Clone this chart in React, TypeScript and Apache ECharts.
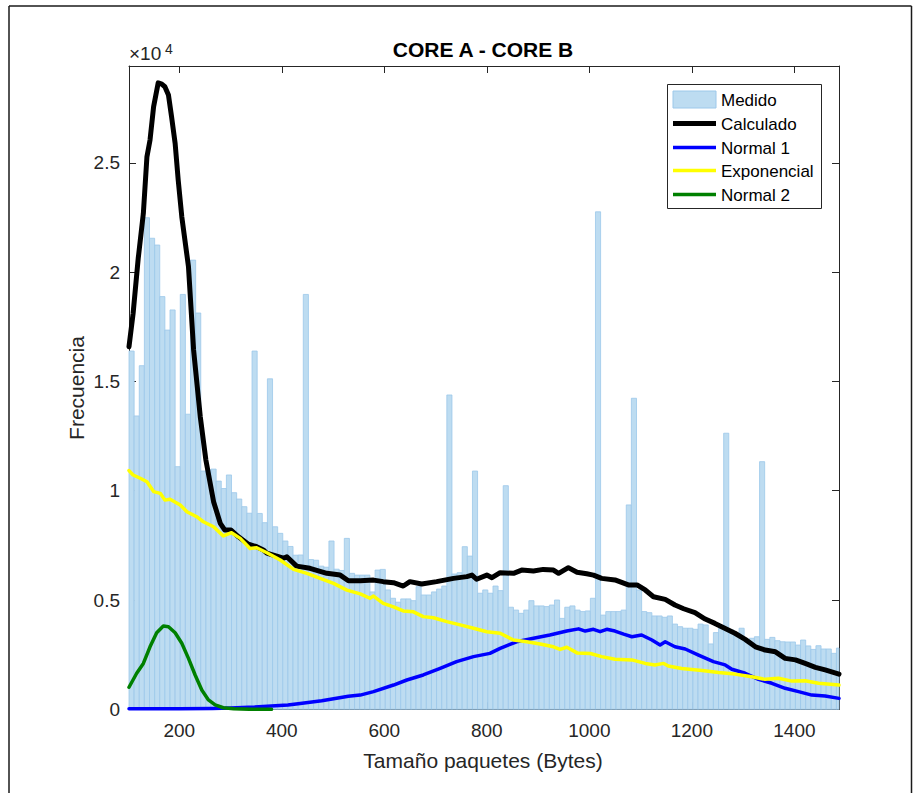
import React, { useEffect, useRef } from "react";
import * as echarts from "echarts";

// ---------- data ----------
const BIN_START = 102;
const BIN_WIDTH = 10;
const X_MIN = 102;
const X_MAX = 1487;
const Y_MAX = 29430;
const X_TICKS = [200, 400, 600, 800, 1000, 1200, 1400];
const Y_TICKS = [0, 5000, 10000, 15000, 20000, 25000];

const MEDIDO = [
  16390, 13420, 15720, 22490, 21550, 21240, 18880, 17350, 18270, 11100,
  18980, 13500, 20550, 18130, 10900, 10950, 10990, 10440, 10100, 10720,
  9910, 9620, 9270, 8970, 16390, 8960, 8540, 15120, 8350, 8050,
  7700, 7450, 7050, 7060, 18980, 6850, 6820, 6550, 6500, 7700,
  6410, 6350, 7820, 6220, 6140, 6140, 6140, 5370, 6370, 6400,
  5460, 5080, 4900, 5050, 5050, 4970, 5610, 5230, 5230, 5370,
  5500, 5640, 14380, 6190, 6250, 7440, 7010, 10900, 5310, 5460,
  5310, 5640, 5430, 10230, 4670, 4540, 4390, 4540, 4970, 4730,
  4730, 4700, 4770, 5000, 4160, 4670, 4730, 4540, 4470, 4500,
  5080, 22760, 4310, 4470, 4470, 4470, 4540, 9350, 14230, 5460,
  4470, 4420, 4270, 4270, 4210, 4270, 3900, 3780, 3710, 3710,
  3660, 3900, 3860, 2990, 3510, 3710, 12630, 3630, 3480, 3710,
  3170, 3250, 3320, 11330, 3200, 3290, 3140, 3090, 3080, 3080,
  2940, 3170, 2900, 2740, 2910, 2760, 2760, 2560, 2800,
];

const CALCULADO: [number, number][] = [
  [102, 16590], [110, 18110], [120, 20630], [130, 22690], [137, 25280], [143, 26040],
  [150, 27570], [159, 28660], [166, 28600], [172, 28480], [179, 28100], [185, 27110],
  [192, 25890], [198, 24210], [205, 22530], [218, 20250], [228, 16440], [241, 13390],
  [252, 11400], [267, 9500], [280, 8510], [289, 8200], [301, 8200], [315, 7900],
  [335, 7550], [351, 7440], [364, 7290], [371, 7140], [403, 6910], [410, 6980],
  [429, 6550], [455, 6450], [488, 6220], [514, 6140], [530, 5880], [553, 5880],
  [579, 5910], [598, 5840], [618, 5790], [637, 5640], [650, 5840], [673, 5730],
  [702, 5840], [735, 5990], [761, 6070], [771, 6140], [780, 5950], [800, 6140],
  [810, 6020], [826, 6250], [852, 6220], [868, 6370], [891, 6330], [910, 6400],
  [930, 6370], [940, 6220], [959, 6480], [976, 6270], [995, 6200], [1008, 6140],
  [1024, 5990], [1050, 5920], [1076, 5690], [1093, 5690], [1109, 5460], [1125, 5150],
  [1148, 5030], [1167, 4770], [1184, 4600], [1206, 4420], [1226, 4130], [1245, 3930],
  [1265, 3700], [1284, 3480], [1304, 3200], [1324, 2860], [1343, 2710], [1363, 2630],
  [1382, 2330], [1402, 2260], [1421, 2100], [1441, 1920], [1460, 1800], [1487, 1610],
];

const NORMAL1: [number, number][] = [
  [102, 20], [200, 30], [265, 40], [300, 60], [347, 100], [412, 200], [436, 270],
  [478, 390], [530, 600], [553, 650], [579, 810], [618, 1110], [644, 1340],
  [676, 1570], [709, 1870], [741, 2180], [774, 2410], [806, 2560], [826, 2790],
  [858, 3090], [891, 3250], [923, 3400], [956, 3580], [979, 3680], [992, 3580],
  [1008, 3660], [1021, 3550], [1034, 3660], [1050, 3580], [1067, 3440], [1083, 3320],
  [1102, 3400], [1122, 3170], [1138, 2940], [1148, 3090], [1167, 2860], [1187, 2760],
  [1213, 2480], [1242, 2180], [1265, 2030], [1278, 1830], [1304, 1650], [1330, 1370],
  [1356, 1190], [1382, 960], [1408, 810], [1434, 650], [1460, 610], [1487, 500],
];

const EXPONENCIAL: [number, number][] = [
  [102, 10920], [110, 10720], [124, 10570], [137, 10410], [150, 9960], [163, 9880],
  [172, 9570], [182, 9610], [202, 9350], [215, 9040], [234, 8810], [247, 8580],
  [267, 8350], [286, 7930], [302, 8080], [319, 7820], [338, 7360], [351, 7390],
  [371, 7160], [397, 6830], [423, 6400], [449, 6220], [475, 5990], [501, 5760],
  [527, 5450], [553, 5280], [572, 5080], [579, 5180], [598, 4850], [618, 4690],
  [637, 4500], [657, 4460], [676, 4240], [696, 4190], [722, 4010], [748, 3860],
  [774, 3710], [800, 3550], [826, 3480], [852, 3170], [878, 3090], [904, 2990],
  [930, 2860], [943, 2740], [956, 2840], [976, 2580], [1002, 2550], [1024, 2410],
  [1050, 2290], [1083, 2260], [1109, 2100], [1128, 2030], [1145, 2100], [1154, 1980],
  [1180, 1870], [1220, 1770], [1252, 1680], [1284, 1610], [1317, 1490], [1343, 1370],
  [1369, 1420], [1395, 1290], [1421, 1310], [1447, 1190], [1487, 1110],
];

const NORMAL2: [number, number][] = [
  [102, 1010], [117, 1650], [130, 2100], [143, 2860], [156, 3500], [169, 3810],
  [179, 3780], [192, 3500], [205, 3020], [218, 2330], [231, 1570], [244, 880],
  [257, 430], [270, 200], [286, 70], [306, 20], [340, 0], [380, 0],
];

const LEGEND_NAMES = ["Medido", "Calculado", "Normal 1", "Exponencial", "Normal 2"];

// ---------- style ----------
const FONT = "'Liberation Sans', Arial, Helvetica, sans-serif";
const AX = "#262626";
const BAR_FILL = "#BDDCF1";
const BAR_EDGE = "#9CC8EA";

export default function App() {
  const ref = useRef<HTMLDivElement>(null);

  useEffect(() => {
    if (!ref.current) return;
    const chart = echarts.init(ref.current, null, { renderer: "svg" });

    const bars = MEDIDO.map((v, i) => [
      BIN_START + i * BIN_WIDTH,
      BIN_START + (i + 1) * BIN_WIDTH,
      v,
    ]);

    const axisCommon = {
      axisLine: { show: true, onZero: false, lineStyle: { color: AX, width: 1 } },
      splitLine: { show: false },
    };

    const lineSeries = (name: string, data: [number, number][], color: string, width: number, z: number) => ({
      name,
      type: "line",
      data,
      showSymbol: false,
      symbol: "none",
      smooth: false,
      z,
      lineStyle: { color, width, join: "round", cap: "round" },
      emphasis: { disabled: true },
    });

    const legendY = [99.5, 123.5, 147.5, 170.5, 194.5];
    const legendColors = ["", "#000000", "#0000FF", "#FFFF00", "#008000"];
    const legendWidths = [0, 5, 3.5, 3.5, 3.5];

    const legendEls: any[] = [
      {
        type: "rect",
        shape: { x: 667.5, y: 84.5, width: 154, height: 124 },
        style: { fill: "#ffffff", stroke: AX, lineWidth: 1 },
        z: 50,
      },
      {
        type: "rect",
        shape: { x: 673, y: 91, width: 43, height: 17 },
        style: { fill: BAR_FILL, stroke: BAR_EDGE, lineWidth: 1 },
        z: 51,
      },
    ];
    for (let k = 1; k < LEGEND_NAMES.length; k++) {
      legendEls.push({
        type: "line",
        shape: { x1: 673, y1: legendY[k], x2: 716, y2: legendY[k] },
        style: { stroke: legendColors[k], lineWidth: legendWidths[k] },
        z: 51,
      });
    }
    LEGEND_NAMES.forEach((n, k) => {
      legendEls.push({
        type: "text",
        x: 721,
        y: legendY[k] + 1,
        style: {
          text: n,
          fill: "#000",
          font: `17px ${FONT}`,
          textAlign: "left",
          textVerticalAlign: "middle",
          align: "left",
          verticalAlign: "middle",
        },
        z: 52,
      });
    });

    const option: any = {
      animation: false,
      backgroundColor: "#ffffff",
      grid: { left: 129, top: 66, width: 710, height: 643.3, containLabel: false },
      xAxis: [
        {
          type: "value",
          position: "bottom",
          min: X_MIN,
          max: X_MAX,
          ...axisCommon,
          axisTick: { show: true, inside: true, length: 7, customValues: X_TICKS, lineStyle: { color: AX } },
          axisLabel: {
            show: true,
            customValues: X_TICKS,
            formatter: (v: number) => String(v),
            fontSize: 19,
            fontFamily: FONT,
            color: AX,
            margin: 12,
          },
        },
        {
          type: "value",
          position: "top",
          min: X_MIN,
          max: X_MAX,
          ...axisCommon,
          axisTick: { show: true, inside: true, length: 7, customValues: X_TICKS, lineStyle: { color: AX } },
          axisLabel: { show: false },
        },
      ],
      yAxis: [
        {
          type: "value",
          position: "left",
          min: 0,
          max: Y_MAX,
          ...axisCommon,
          axisTick: { show: true, inside: true, length: 7, customValues: Y_TICKS, lineStyle: { color: AX } },
          axisLabel: {
            show: true,
            customValues: Y_TICKS,
            formatter: (v: number) => String(v / 10000),
            fontSize: 19,
            fontFamily: FONT,
            color: AX,
            margin: 9,
          },
        },
        {
          type: "value",
          position: "right",
          min: 0,
          max: Y_MAX,
          ...axisCommon,
          axisTick: { show: true, inside: true, length: 7, customValues: Y_TICKS, lineStyle: { color: AX } },
          axisLabel: { show: false },
        },
      ],
      series: [
        {
          name: LEGEND_NAMES[0],
          type: "custom",
          data: bars,
          encode: { x: [0, 1], y: 2 },
          z: 1,
          renderItem: (params: any, api: any) => {
            const x0 = api.value(0);
            const x1 = api.value(1);
            const v = api.value(2);
            const tl = api.coord([x0, v]);
            const br = api.coord([x1, 0]);
            const cs = params.coordSys;
            const left = Math.max(tl[0], cs.x);
            const right = Math.min(br[0], cs.x + cs.width);
            if (right <= left) return null;
            return {
              type: "rect",
              shape: { x: left, y: tl[1], width: right - left, height: br[1] - tl[1] },
              style: { fill: BAR_FILL, stroke: BAR_EDGE, lineWidth: 0.8 },
            };
          },
        },
        lineSeries(LEGEND_NAMES[1], CALCULADO, "#000000", 5, 3),
        lineSeries(LEGEND_NAMES[2], NORMAL1, "#0000FF", 3.5, 4),
        lineSeries(LEGEND_NAMES[3], EXPONENCIAL, "#FFFF00", 3.5, 5),
        lineSeries(LEGEND_NAMES[4], NORMAL2, "#008000", 3.5, 6),
      ],
      graphic: [
        // figure border
        { type: "line", shape: { x1: 9, y1: 6, x2: 911.5, y2: 6 }, style: { stroke: "#1a1a1a", lineWidth: 1.5 }, z: 60 },
        { type: "line", shape: { x1: 9, y1: 6, x2: 9, y2: 800 }, style: { stroke: "#1a1a1a", lineWidth: 1.5 }, z: 60 },
        { type: "line", shape: { x1: 911.5, y1: 6, x2: 911.5, y2: 800 }, style: { stroke: "#1a1a1a", lineWidth: 1.5 }, z: 60 },
        // title
        {
          type: "text",
          x: 483,
          y: 49,
          style: {
            text: "CORE A - CORE B",
            fill: "#000",
            font: `bold 21px ${FONT}`,
            textAlign: "center",
            textVerticalAlign: "middle",
            align: "center",
            verticalAlign: "middle",
          },
          z: 60,
        },
        // x label
        {
          type: "text",
          x: 483,
          y: 760,
          style: {
            text: "Tamaño paquetes (Bytes)",
            fill: AX,
            font: `21px ${FONT}`,
            textAlign: "center",
            textVerticalAlign: "middle",
            align: "center",
            verticalAlign: "middle",
          },
          z: 60,
        },
        // y label
        {
          type: "text",
          x: 76,
          y: 388,
          rotation: Math.PI / 2,
          style: {
            text: "Frecuencia",
            fill: AX,
            font: `21px ${FONT}`,
            textAlign: "center",
            textVerticalAlign: "middle",
            align: "center",
            verticalAlign: "middle",
          },
          z: 60,
        },
        // exponent
        {
          type: "text",
          x: 129,
          y: 63,
          style: {
            text: "×10",
            fill: AX,
            font: `19px ${FONT}`,
            textAlign: "left",
            textVerticalAlign: "bottom",
            align: "left",
            verticalAlign: "bottom",
          },
          z: 60,
        },
        {
          type: "text",
          x: 165,
          y: 56,
          style: {
            text: "4",
            fill: AX,
            font: `14px ${FONT}`,
            textAlign: "left",
            textVerticalAlign: "bottom",
            align: "left",
            verticalAlign: "bottom",
          },
          z: 60,
        },
        ...legendEls,
      ],
    };

    chart.setOption(option);
    return () => chart.dispose();
  }, []);

  return (
    <div
      ref={ref}
      style={{ position: "fixed", left: 0, top: 0, width: 919, height: 793, background: "#fff" }}
    />
  );
}
